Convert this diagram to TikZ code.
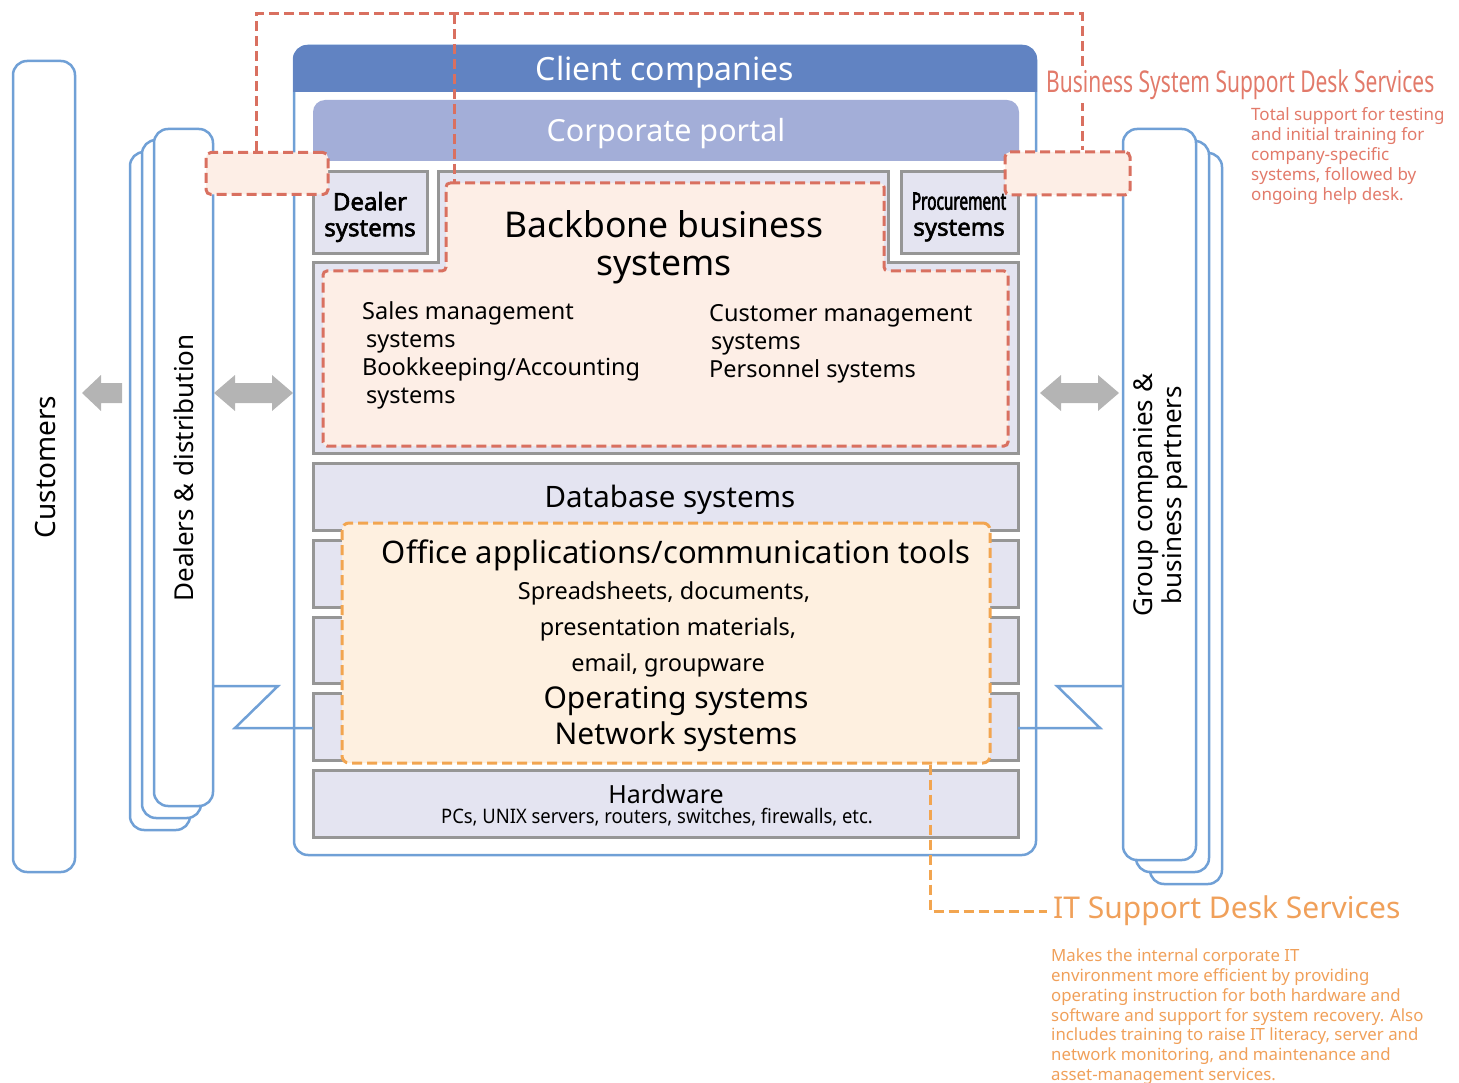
\documentclass[tikz,border=0pt]{standalone}
\usepackage{fontspec}
\setmainfont{Noto Sans}
\newfontfamily\narrowfont[FakeStretch=0.7]{Noto Sans}
\newfontfamily\condfont[FakeStretch=0.92]{Noto Sans}
\newfontfamily\boxfont[FakeBold=2.5]{Noto Sans}
\newfontfamily\procfont[FakeStretch=0.64,FakeBold=2.5]{Noto Sans}
\usepackage{xcolor}
\usepackage{tikz}

\definecolor{lineblue}{RGB}{112,160,214}
\definecolor{headblue}{RGB}{97,131,194}
\definecolor{portalblue}{RGB}{163,174,216}
\definecolor{layerfill}{RGB}{228,228,241}
\definecolor{layergray}{RGB}{150,150,150}
\definecolor{bssred}{RGB}{217,112,96}
\definecolor{bssfill}{RGB}{253,238,230}
\definecolor{bsstext}{RGB}{226,122,106}
\definecolor{itorange}{RGB}{242,165,80}
\definecolor{itfill}{RGB}{254,240,224}
\definecolor{ittext}{RGB}{240,160,90}
\definecolor{arrowgray}{RGB}{180,180,180}

\tikzset{
	bluebox/.style={draw=lineblue,line width=2.5pt,fill=white,rounded corners=14pt},
	layer/.style={draw=layergray,line width=3pt,fill=layerfill},
	bssline/.style={draw=bssred,line width=3pt,dash pattern=on 10pt off 5pt},
	bssbox/.style={bssline,fill=bssfill,rounded corners=5pt,inner sep=0pt},
	itline/.style={draw=itorange,line width=3pt,dash pattern=on 10pt off 5pt},
	flow/.style={fill=arrowgray},
	net/.style={draw=lineblue,line width=2.5pt},
}

\begin{document}
\begin{tikzpicture}[x=1pt,y=-1pt]
	\useasboundingbox (0,0) rectangle (1459,1083);
	% outside parties
	\draw[bluebox] (13,61) rectangle (75,872);
	\draw[bluebox] (130,152) rectangle (190,830);
	\draw[bluebox] (142,140) rectangle (201,818);
	\draw[bluebox] (154,129) rectangle (213,806);
	\draw[bluebox] (1150,153) rectangle (1222,884);
	\draw[bluebox] (1136,141) rectangle (1209,872);
	\draw[bluebox] (1123,129) rectangle (1196,860);
	\node[rotate=90,font=\fontsize{28pt}{32pt}\selectfont] (cust) at (46,467) {Customers};
	\node[rotate=90,font=\fontsize{26pt}{30pt}\selectfont] (deal) at (184,468) {Dealers \& distribution};
	\node[rotate=90,align=center,font=\fontsize{26pt}{29pt}\selectfont] (grp) at (1161,495) {Group companies \&\\business partners};
	% client companies
	\draw[bluebox] (294,46) rectangle (1036,855);
	\fill[headblue] (293,92) [rounded corners=14pt] -- (293,45) -- (1037,45) [sharp corners] -- (1037,92) -- cycle;
	\fill[portalblue] (313,161) [rounded corners=12pt] -- (313,100) -- (1019,100) [sharp corners] -- (1019,161) -- cycle;
	\node[white,font=\fontsize{32pt}{36pt}\selectfont] (client) at (665,72) {Client companies};
	\node[white,font=\fontsize{30.5pt}{34pt}\selectfont] (portal) at (666,134) {Corporate portal};
	\draw[layer] (313,172) rectangle (427,254);
	\draw[layer] (901,172) rectangle (1018,254);
	\node[align=center,font=\boxfont\fontsize{24pt}{26pt}\selectfont] (dealsys) at (370,217) {Dealer\\systems};
	\node[align=center,font=\boxfont\fontsize{24pt}{26pt}\selectfont] (procsys) at (959,217) {{\procfont Procurement}\\systems};
	% backbone
	\draw[layer] (438,172) -- (888,172) -- (888,263) -- (1018,263) -- (1018,453) -- (313,453) -- (313,263) -- (438,263) -- cycle;
	\draw[bssline,fill=bssfill,rounded corners=4pt] (446,183) -- (884,183) -- (884,271) -- (1008,271) -- (1008,446) -- (323,446) -- (323,271) -- (446,271) -- cycle;
	\coordinate (bbtop) at (454,183);
	\node[align=center,font=\fontsize{35.5pt}{38pt}\selectfont] (backbone) at (664,247) {Backbone business\\systems};
	\node[anchor=north west,align=left,inner sep=0pt,font=\fontsize{23.5pt}{28pt}\selectfont] (salesys) at (362,301)
		{Sales management\\\hspace{4pt}systems\\Bookkeeping/Accounting\\\hspace{4pt}systems};
	\node[anchor=north west,align=left,inner sep=0pt,font=\fontsize{23.5pt}{28pt}\selectfont] (custsys) at (709,304)
		{Customer management\\\hspace{2pt}systems\\Personnel systems};
	% lower layers
	\draw[layer] (313,463) rectangle (1018,530);
	\foreach \yt/\yb in {540/607,617/683,693/760}
		\draw[layer] (313,\yt) rectangle (1018,\yb);
	\draw[layer] (313,770) rectangle (1018,837);
	\node[font=\fontsize{29.5pt}{34pt}\selectfont] (dbsys) at (670,500) {Database systems};
	\node[draw=itorange,line width=3pt,dash pattern=on 10pt off 5pt,fill=itfill,rounded corners=7pt,
		minimum width=648pt,minimum height=240pt] (office) at (666,643) {};
	\node[font=\fontsize{31pt}{34pt}\selectfont] (officeapp) at (676,555) {Office applications/communication tools};
	\node[font=\fontsize{23.5pt}{28pt}\selectfont] (sheets) at (664,593) {Spreadsheets, documents,};
	\node[font=\fontsize{23.5pt}{28pt}\selectfont] (present) at (668,629) {presentation materials,};
	\node[font=\fontsize{23.5pt}{28pt}\selectfont] (email) at (668,665) {email, groupware};
	\node[font=\fontsize{30pt}{34pt}\selectfont] (ossys) at (676,701) {Operating systems};
	\node[font=\fontsize{30pt}{34pt}\selectfont] (netsys) at (676,737) {Network systems};
	\node[font=\fontsize{25pt}{28pt}\selectfont] (hw) at (666,794) {Hardware};
	\node[font=\condfont\fontsize{20pt}{24pt}\selectfont] (hwlist) at (657,817) {PCs, UNIX servers, routers, switches, firewalls, etc.};
	% arrows between parties
	\fill[flow] (82,393) -- ++(19,-18) -- ++(0,8) -- ++(21,0) -- ++(0,20) -- ++(-21,0) -- ++(0,8) -- cycle;
	\foreach \xa in {214,1040}
		\fill[flow] (\xa,393) -- ++(21,-18) -- ++(0,8) -- ++(37,0) -- ++(0,-8) -- ++(21,18) -- ++(-21,18) -- ++(0,-8) -- ++(-37,0) -- ++(0,8) -- cycle;
	% network links
	\coordinate (dealport) at (213,686);
	\coordinate (rowL) at (313,728);
	\coordinate (grpport) at (1123,686);
	\coordinate (rowR) at (1018,728);
	\draw[net] (dealport) -- ++(65,0) -- ++(-43,42) -- (rowL);
	\draw[net] (grpport) -- ++(-66,0) -- ++(43,42) -- (rowR);
	% business system support desk
	\coordinate (topL) at (256,14);
	\coordinate (topM) at (454,14);
	\coordinate (topR) at (1082,14);
	\draw[bssline] (topM) -- (bbtop);
	\node[bssbox,minimum width=122pt,minimum height=42pt] (bssL) at (267,173.5) {};
	\node[bssbox,minimum width=125pt,minimum height=43pt] (bssR) at (1067.5,173.5) {};
	\draw[bssline] (bssL.north -| topL) |- (topR) -- (bssR.north -| topR);
	\node[anchor=west,inner sep=3pt,fill=white,text=bsstext,font=\narrowfont\fontsize{30pt}{34pt}\selectfont] (bsstitle) at (1043,85) {Business System Support Desk Services};
	\node[anchor=north west,align=left,inner sep=0pt,text=bsstext,font=\fontsize{17pt}{20pt}\selectfont] (bssdesc) at (1251,107)
		{Total support for testing\\and initial training for\\company-specific\\systems, followed by\\ongoing help desk.};
	% IT support desk
	\node[anchor=west,inner sep=6pt,text=ittext,font=\fontsize{30pt}{34pt}\selectfont] (ittitle) at (1047,911) {IT Support Desk Services};
	\draw[itline] (office.south -| 930,0) |- (ittitle.west);
	\node[anchor=north west,align=left,inner sep=0pt,text=ittext,font=\fontsize{16.8pt}{19.7pt}\selectfont] (itdesc) at (1051,949)
		{Makes the internal corporate IT\\environment more efficient by providing\\operating instruction for both hardware and\\software and support for system recovery. Also\\includes training to raise IT literacy, server and\\network monitoring, and maintenance and\\asset-management services.};
\end{tikzpicture}
\end{document}
